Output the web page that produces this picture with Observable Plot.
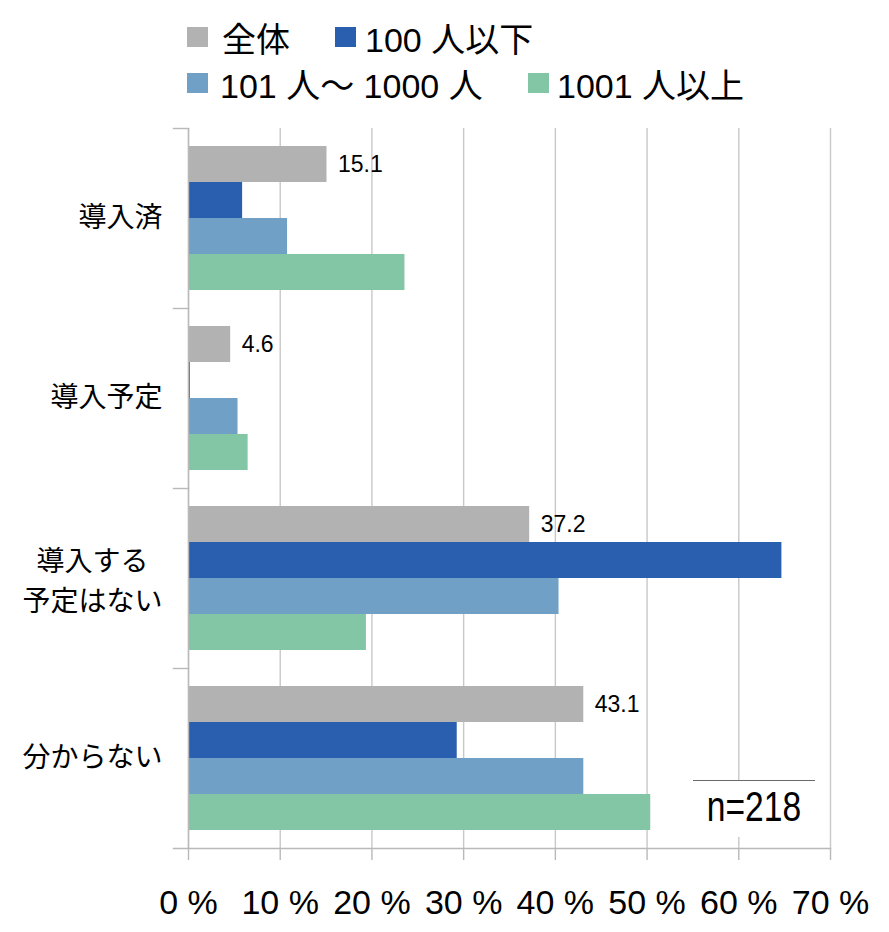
<!DOCTYPE html>
<html>
<head>
<meta charset="utf-8">
<script src="https://cdn.jsdelivr.net/npm/d3@7"></script>
<script src="https://cdn.jsdelivr.net/npm/@observablehq/plot@0.6"></script>
<style>
  html, body { margin: 0; padding: 0; background: white; }
  #wrap { position: relative; width: 889px; height: 932px; overflow: hidden; font-family: "Liberation Sans", "Noto Sans CJK JP", sans-serif; }
  #legend { position: relative; width: 889px; height: 115px; }
  .sw { position: absolute; width: 21px; height: 20px; }
  .lt { position: absolute; font-size: 34px; line-height: 34px; white-space: pre; color: #000; }
  #note { position: absolute; left: 693px; top: 780px; width: 122px; height: 56px; background: white; border-top: 1.5px solid #6a6a6a; text-align: center; }
  #note span { display: inline-block; font-size: 42px; line-height: 52px; transform: scaleX(0.8); color: #000; font-family: "Liberation Sans", sans-serif; }
</style>
</head>
<body>
<div id="wrap">
  <div id="legend"></div>
  <div id="chart"></div>
  <div id="note"><span>n=218</span></div>
</div>
<script>
// ---- data ----
const categories = ["導入済", "導入予定", "導入する\n予定はない", "分からない"];
const seriesNames = ["全体", "100 人以下", "101 人～ 1000 人", "1001 人以上"];
const valuesAll = [15.1, 4.6, 37.2, 43.1];
const valuesUnder100 = [5.9, 0.2, 64.7, 29.3];
const values101to1000 = [10.8, 5.4, 40.4, 43.1];
const valuesOver1000 = [23.6, 6.5, 19.4, 50.4];
const xTicks = [0, 10, 20, 30, 40, 50, 60, 70];
const sampleNote = "n=218";

// ---- styles ----
const colors = ["#b2b2b2", "#2a5fb0", "#71a0c6", "#83c6a5"];
const seriesValues = [valuesAll, valuesUnder100, values101to1000, valuesOver1000];

const rows = [];
categories.forEach((c, i) => {
  seriesNames.forEach((s, j) => {
    rows.push({category: c, series: s, value: seriesValues[j][i]});
  });
});

// ---- legend ----
const legend = document.getElementById("legend");
const legendPos = [
  {sx: 187, sy: 27, tx: 222, ty: 23},
  {sx: 335, sy: 27, tx: 365, ty: 23},
  {sx: 187, sy: 73, tx: 220, ty: 69},
  {sx: 528, sy: 73, tx: 557, ty: 69}
];
seriesNames.forEach((s, j) => {
  const p = legendPos[j];
  const sw = document.createElement("div");
  sw.className = "sw";
  sw.style.left = p.sx + "px"; sw.style.top = p.sy + "px"; sw.style.background = colors[j];
  legend.appendChild(sw);
  const t = document.createElement("div");
  t.className = "lt";
  t.style.left = p.tx + "px"; t.style.top = p.ty + "px";
  t.textContent = s;
  legend.appendChild(t);
});
document.querySelector("#note span").textContent = sampleNote;

// ---- chart ----
const W = 889, H = 817;
const mL = 188, mR = 59, mT = 12, mB = 84;
const plotW = W - mL - mR;
const axisGray = "#b9b9b9";
const cjk = "'Noto Sans CJK JP', 'Liberation Sans', sans-serif";

const single = categories.filter(c => !c.includes("\n"));
const multi = categories.filter(c => c.includes("\n"));

const chart = Plot.plot({
  width: W,
  height: H,
  marginLeft: mL,
  marginRight: mR,
  marginTop: mT,
  marginBottom: mB,
  style: {fontFamily: "'Liberation Sans', 'Noto Sans CJK JP', sans-serif", background: "white", overflow: "visible"},
  x: {domain: [0, 70]},
  y: {domain: seriesNames, paddingInner: 0, paddingOuter: 0.5, axis: null},
  fy: {domain: categories, padding: 0, axis: null},
  color: {domain: seriesNames, range: colors},
  marks: [
    Plot.gridX({ticks: xTicks, stroke: "#c8c8c8", strokeOpacity: 1, strokeWidth: 1.4}),
    Plot.barX(rows, {x: "value", y: "series", fy: "category", fill: "series", inset: 0}),
    Plot.text(rows.filter(d => d.series === seriesNames[0]), {
      x: "value", y: "series", fy: "category",
      text: d => d.value.toFixed(1), dx: 11, textAnchor: "start", fontSize: 23, fill: "#000"
    }),
    Plot.ruleX([0], {stroke: axisGray, strokeWidth: 1.4}),
    Plot.frame({anchor: "top", insetLeft: -15, insetRight: plotW, stroke: axisGray, strokeWidth: 1.4}),
    Plot.frame({anchor: "bottom", facet: "super", insetLeft: -15, stroke: axisGray, strokeWidth: 1.4}),
    Plot.text(single, {fy: d => d, text: d => d, frameAnchor: "left", dx: -26, textAnchor: "end", fontSize: 28, fontFamily: cjk, fill: "#000"}),
    Plot.text(multi, {fy: d => d, text: d => d, frameAnchor: "left", dx: -96, textAnchor: "middle", lineHeight: 1.43, fontSize: 28, fontFamily: cjk, fill: "#000"}),
    Plot.axisX({ticks: xTicks, tickFormat: d => d + " %", tickSize: 12, tickPadding: 29, fontSize: 34, stroke: axisGray, strokeWidth: 1.4, fill: "#000", label: null})
  ]
});
document.getElementById("chart").appendChild(chart);
</script>
</body>
</html>
